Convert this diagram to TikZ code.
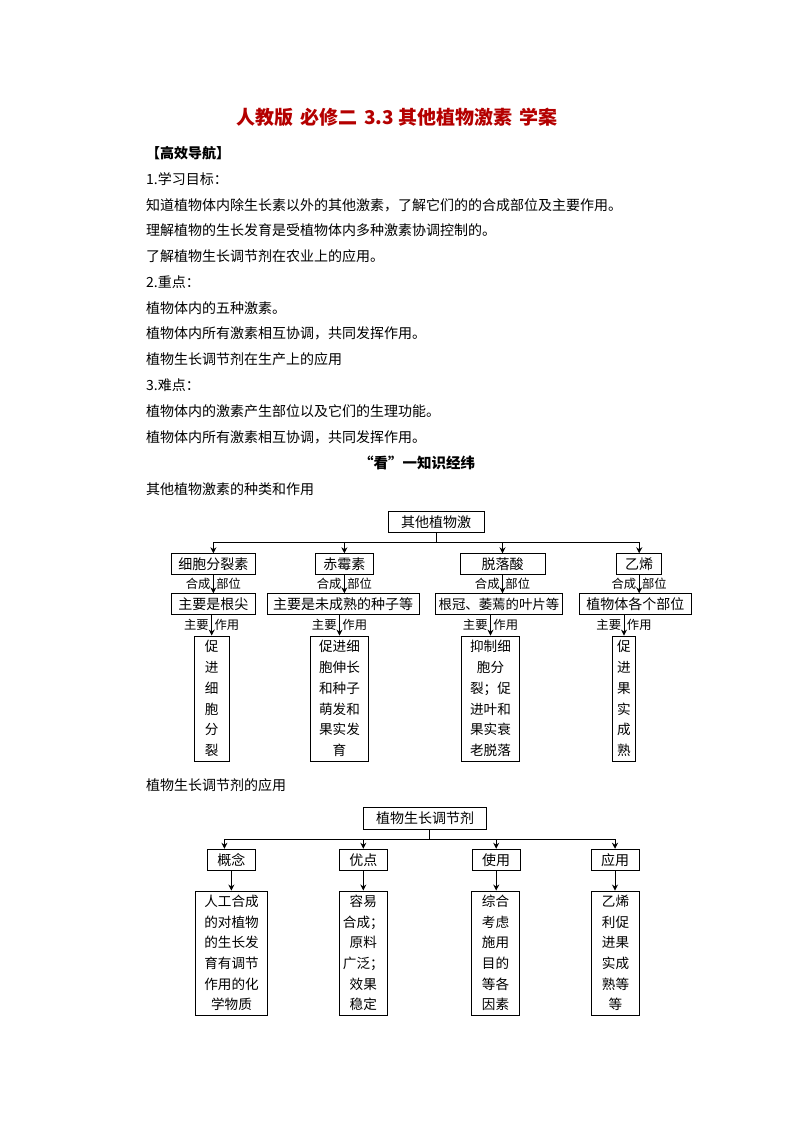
\documentclass[tikz,border=0pt]{standalone}
\usepackage{fontspec}
\setmainfont{Noto Sans CJK SC}
\usetikzlibrary{arrows.meta}
\definecolor{titlered}{RGB}{180,0,0}
\begin{document}
\begin{tikzpicture}[x=1pt,y=-1pt,
  body/.style={font=\fontsize{14}{16}\selectfont, inner sep=0, anchor=west},
  box/.style={draw, line width=0.9pt, inner sep=0, font=\fontsize{14}{16}\selectfont, align=center},
  tall/.style={box, font=\fontsize{13.6}{20.7}\selectfont},
  lbl/.style={font=\fontsize{12.3}{13}\selectfont, inner xsep=2.5pt, inner ysep=0.5pt},
  arr/.style={line width=0.9pt, -{Stealth[length=6pt,width=6pt]}},
  ln/.style={line width=0.9pt}]
\useasboundingbox (0,0) rectangle (794,1123);

% ---- header text ----
\node[font=\fontsize{19}{21}\selectfont\bfseries, text=titlered] (title) at (397,117) {人教版\hspace{7pt}必修二\hspace{7pt}3.3\hspace{5pt}其他植物激素\hspace{7pt}学案};
\node[body, font=\fontsize{14}{16}\selectfont\bfseries] (nav) at (146,153) {【高效导航】};
\node[body] (l1) at (146,179) {1.学习目标：};
\node[body] (l2) at (146,205) {知道植物体内除生长素以外的其他激素，了解它们的的合成部位及主要作用。};
\node[body] (l3) at (146,230) {理解植物的生长发育是受植物体内多种激素协调控制的。};
\node[body] (l4) at (146,256) {了解植物生长调节剂在农业上的应用。};
\node[body] (l5) at (146,282) {2.重点：};
\node[body] (l6) at (146,308) {植物体内的五种激素。};
\node[body] (l7) at (146,333) {植物体内所有激素相互协调，共同发挥作用。};
\node[body] (l8) at (146,359) {植物生长调节剂在生产上的应用};
\node[body] (l9) at (146,385) {3.难点：};
\node[body] (l10) at (146,411) {植物体内的激素产生部位以及它们的生理功能。};
\node[body] (l11) at (146,437) {植物体内所有激素相互协调，共同发挥作用。};
\node[font=\fontsize{14.5}{16}\selectfont\bfseries, inner sep=0] (see) at (417,463) {“看”一知识经纬};
\node[body] (l12) at (146,489) {其他植物激素的种类和作用};
\node[body] (l13) at (146,785) {植物生长调节剂的应用};

% ---- diagram 1 ----
\node[box, minimum width=96, minimum height=20.5] (top1) at (436,522) {其他植物激};
\node[box, minimum width=83.3, minimum height=20.5] (c1) at (213.4,564) {细胞分裂素};
\node[box, minimum width=57.3, minimum height=20.5] (c2) at (344.4,564) {赤霉素};
\node[box, minimum width=85, minimum height=20.5] (c3) at (502.5,564) {脱落酸};
\node[box, minimum width=45, minimum height=20.5] (c4) at (639.2,564) {乙烯};

\node[box, minimum width=83.3, minimum height=20.5] (d1) at (213.4,604) {主要是根尖};
\node[box, minimum width=152, minimum height=20.5] (d2) at (343,604) {主要是未成熟的种子等};
\node[box, minimum width=127.7, minimum height=20.5, font=\fontsize{13.4}{16}\selectfont] (d3) at (498.9,604) {根冠、萎蔫的叶片等};
\node[box, minimum width=112.7, minimum height=20.5] (d4) at (635.3,604) {植物体各个部位};

\node[tall, minimum width=34.7, minimum height=125] (e1) at (211.7,698.5) {促\\进\\细\\胞\\分\\裂};
\node[tall, minimum width=57.6, minimum height=125] (e2) at (339.5,698.5) {促进细\\胞伸长\\和种子\\萌发和\\果实发\\育};
\node[tall, minimum width=57.6, minimum height=125] (e3) at (490.5,698.5) {抑制细\\胞分\\裂；促\\进叶和\\果实衰\\老脱落};
\node[tall, minimum width=23.4, minimum height=125] (e4) at (624,698.5) {促\\进\\果\\实\\成\\熟};

\coordinate (bar1) at (436,542);
\draw[ln] (top1.south) -- (bar1);
\draw[ln] (bar1 -| c1) -- (bar1 -| c4);
\foreach \n in {c1,c2,c3,c4} \draw[arr] (bar1 -| \n) -- (\n.north);
\foreach \a/\b in {c1/d1,c2/d2,c3/d3,c4/d4}
  \draw[arr] (\a.south) -- node[lbl,left]{合成} node[lbl,right]{部位} (\a.south |- \b.north);
\foreach \a/\b in {d1/e1,d2/e2,d3/e3,d4/e4}
  \draw[arr] (\a.south -| \b) -- node[lbl,left]{主要} node[lbl,right]{作用} (\b.north);

% ---- diagram 2 ----
\node[box, minimum width=123.4, minimum height=21.6] (top2) at (425,818.5) {植物生长调节剂};
\node[box, minimum width=47.3, minimum height=21.6] (g1) at (231.4,860) {概念};
\node[box, minimum width=48, minimum height=21.6] (g2) at (363.3,860) {优点};
\node[box, minimum width=47.7, minimum height=21.6] (g3) at (496.2,860) {使用};
\node[box, minimum width=48, minimum height=21.6] (g4) at (615,860) {应用};

\node[tall, minimum width=71.6, minimum height=124] (h1) at (231.5,953) {人工合成\\的对植物\\的生长发\\育有调节\\作用的化\\学物质};
\node[tall, minimum width=48, minimum height=124] (h2) at (363.3,953) {容易\\合成；\\原料\\广泛；\\效果\\稳定};
\node[tall, minimum width=47.6, minimum height=124] (h3) at (495.5,953) {综合\\考虑\\施用\\目的\\等各\\因素};
\node[tall, minimum width=47.6, minimum height=124] (h4) at (615.5,953) {乙烯\\利促\\进果\\实成\\熟等\\等};

\coordinate (bar2) at (429.3,839);
\draw[ln] (top2.south -| bar2) -- (bar2);
\draw[ln] ([xshift=-7]bar2 -| g1) -- (bar2 -| g4);
\draw[arr] ([xshift=-7]bar2 -| g1) -- ([xshift=-7]g1.north);
\foreach \n in {g2,g3,g4} \draw[arr] (bar2 -| \n) -- (\n.north);
\foreach \a/\b in {g1/h1,g2/h2,g3/h3,g4/h4}
  \draw[arr] (\a.south) -- (\a.south |- \b.north);
\end{tikzpicture}
\end{document}
